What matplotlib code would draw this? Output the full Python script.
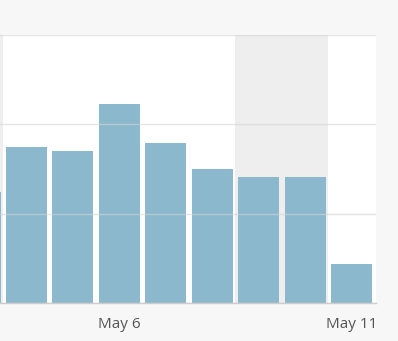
import matplotlib
matplotlib.use("Agg")
import matplotlib.pyplot as plt

days = [3, 4, 5, 6, 7, 8, 9, 10, 11]
values = [24.9, 34.9, 34.0, 44.5, 35.8, 30.1, 28.1, 28.1, 8.7]
weekend_days = [3, 9, 10]
tick_days = [6, 11]
tick_labels = ["May 6", "May 11"]

plt.rcParams['font.family'] = ['Open Sans', 'DejaVu Sans']

fig = plt.figure(figsize=(3.98, 3.41), dpi=100, facecolor='#f7f7f7')
ax = fig.add_axes([0, 1 - 303/341, 376/398, (303 - 35)/341])
ax.set_facecolor('white')

for d in weekend_days:
    ax.axvspan(d - 0.5, d + 0.5, color='#eeeeee', lw=0, zorder=0)

ax.bar(days, values, width=0.885, color='#8bb8cc', zorder=2, lw=0)

ax.set_xlim(3.43, 11.527)
ax.set_ylim(0, 60)
ax.set_yticks([0, 20, 40, 60])
ax.yaxis.grid(True, color='#d4d4d4', lw=1, alpha=0.6, zorder=3)
ax.set_axisbelow(False)
ax.tick_params(axis='y', left=False, labelleft=False)
ax.set_xticks(tick_days)
ax.set_xticklabels(tick_labels)
ax.tick_params(axis='x', length=0, pad=10, labelsize=11, labelcolor='#555555')
for s in ['left', 'right', 'top']:
    ax.spines[s].set_visible(False)
ax.spines['bottom'].set_color('#cccccc')
ax.spines['bottom'].set_linewidth(1)
ax.spines['bottom'].set_zorder(4)

fig.savefig('out.png', dpi=100, facecolor=fig.get_facecolor())
